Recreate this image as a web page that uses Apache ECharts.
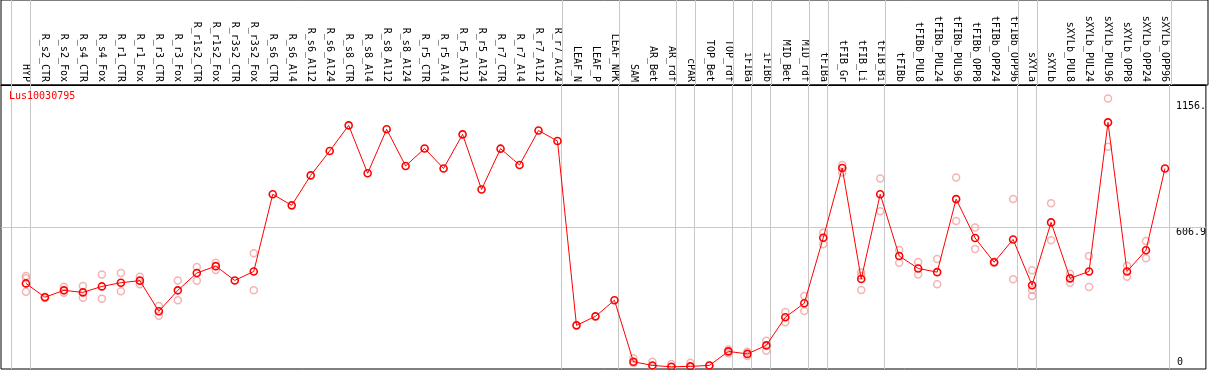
<!DOCTYPE html>
<html>
<head>
<meta charset="utf-8">
<script src="https://cdn.jsdelivr.net/npm/echarts@6/dist/echarts.min.js"></script>
<style>
  html, body { margin: 0; padding: 0; background: #fff; }
  #chart { width: 1209px; height: 370px; }
</style>
</head>
<body>
<div id="chart"></div>
<script>
// Echantillons (ordre de l'axe)
const samples = [
  'HYP', 'R_s2_CTR', 'R_s2_Fox', 'R_s4_CTR', 'R_s4_Fox', 'R_r1_CTR', 'R_r1_Fox',
  'R_r3_CTR', 'R_r3_Fox', 'R_r1s2_CTR', 'R_r1s2_Fox', 'R_r3s2_CTR', 'R_r3s2_Fox',
  'R_s6_CTR', 'R_s6_Al4', 'R_s6_Al12', 'R_s6_Al24', 'R_s8_CTR', 'R_s8_Al4', 'R_s8_Al12',
  'R_s8_Al24', 'R_r5_CTR', 'R_r5_Al4', 'R_r5_Al12', 'R_r5_Al24', 'R_r7_CTR', 'R_r7_Al4',
  'R_r7_Al12', 'R_r7_Al24', 'LEAF_N', 'LEAF_P', 'LEAF_NPK', 'SAM', 'AR_Bet', 'AR_rdf',
  'cPAR', 'TOP_Bet', 'TOP_rdf', 'iFIBa', 'iFIBb', 'MID_Bet', 'MID_rdf', 'tFIBa',
  'tFIB_Gr', 'tFIB_Li', 'tFIB_Bi', 'tFIBb', 'tFIBb_PUL8', 'tFIBb_PUL24', 'tFIBb_PUL96',
  'tFIBb_OPP8', 'tFIBb_OPP24', 'tFIBb_OPP96', 'sXYLa', 'sXYLb', 'sXYLb_PUL8',
  'sXYLb_PUL24', 'sXYLb_PUL96', 'sXYLb_OPP8', 'sXYLb_OPP24', 'sXYLb_OPP96'
];

// Moyennes
const means = [
  365, 305, 335, 326, 352, 368, 377, 244, 335, 410, 440, 378, 417,
  752, 704, 834, 940, 1051, 843, 1034, 875, 951, 864, 1012, 773, 950, 879, 1029, 983,
  183, 222, 292, 25, 9, 3, 5, 9, 70, 59, 96, 218, 279, 563,
  866, 384, 752, 484, 430, 414, 731, 562, 457, 556, 357, 630, 387,
  417, 1064, 417, 509, 864
];

// Replicats
const replicates = [
  [397, 387, 329], [307, 302], [351, 325], [354, 303], [404, 299], [410, 331], [394, 361],
  [267, 225], [378, 292], [436, 377], [455, 423], [], [496, 335],
  [], [], [], [], [], [], [], [], [], [], [], [], [], [], [], [],
  [], [], [], [40, 20], [25, 5], [15, 2], [21, 2], [9], [78, 62], [68, 50], [116, 73],
  [241, 196], [310, 245], [585, 535],
  [879, 846], [412, 398, 336], [821, 678], [510, 455], [458, 404], [471, 361], [825, 636],
  [608, 514], [459, 455], [731, 383], [422, 336, 310], [713, 552], [407, 368],
  [484, 349], [1168, 958], [442, 394], [549, 474], []
];

// Derniers echantillons de chaque groupe (-1 = bord gauche)
const groupEnds = [-1, 0, 28, 31, 34, 35, 37, 38, 39, 41, 42, 45, 52, 53, 60];

// Graduations de droite
const yTicks = [0, 606.9, 1156.3];
const yTickLabels = ['0', '606.9', '1156.'];

const font = 'DejaVu Sans Mono';
const xMin = -1.3146;
const xMax = 62.156;
const yMin = -6.51;
const yMax = 1226.4;

const meanData = means.map((v, i) => [i, v]);
const repData = [];
replicates.forEach((list, i) => list.forEach(v => repData.push([i, v])));

const vLines = groupEnds.map(i => ({ xAxis: i + 0.2 }));
const gridLineStyle = { color: '#c8c8c8', type: 'solid', width: 1 };

const dom = document.getElementById('chart');
const myChart = echarts.init(dom, null, { renderer: 'canvas' });

function rightLabels(values, vAlign, margin) {
  return {
    type: 'value',
    gridIndex: 1,
    position: 'right',
    min: yMin,
    max: yMax,
    axisLine: { show: false },
    axisTick: { show: false },
    splitLine: { show: false },
    axisLabel: {
      inside: true,
      customValues: values,
      formatter: v => yTickLabels[yTicks.indexOf(v)],
      align: 'left',
      verticalAlign: vAlign,
      margin: margin,
      color: '#000',
      fontFamily: font,
      fontSize: 10
    }
  };
}

myChart.setOption({
  animation: false,
  backgroundColor: '#fff',
  title: {
    text: 'Lus10030795',
    left: 9,
    top: 91,
    padding: 0,
    textStyle: { color: '#ff0000', fontFamily: font, fontSize: 10, fontWeight: 'normal' }
  },
  grid: [
    // en-tete (noms des echantillons)
    { left: 1, right: 1, top: 0, height: 85, show: true, borderColor: '#000', borderWidth: 1 },
    // zone du graphique
    { left: 1, right: 1, top: 85, bottom: 1, show: true, borderColor: '#000', borderWidth: 1 }
  ],
  xAxis: [
    {
      type: 'value', gridIndex: 0, min: xMin, max: xMax,
      show: false
    },
    {
      type: 'value', gridIndex: 1, position: 'top', min: xMin, max: xMax,
      axisLine: { show: true, onZero: false, lineStyle: { color: '#000', width: 1 } },
      axisTick: { show: false },
      splitLine: { show: false },
      axisLabel: {
        customValues: samples.map((s, i) => i),
        formatter: v => samples[v],
        rotate: 90,
        margin: 3,
        color: '#000',
        fontFamily: font,
        fontSize: 10
      }
    }
  ],
  yAxis: [
    { type: 'value', gridIndex: 0, min: 0, max: 1, show: false },
    rightLabels(yTicks.slice(1), 'top', 30),
    rightLabels(yTicks.slice(0, 1), 'bottom', 29)
  ],
  series: [
    {
      name: 'separateurs',
      type: 'line',
      xAxisIndex: 0,
      yAxisIndex: 0,
      data: [],
      silent: true,
      markLine: {
        silent: true,
        symbol: 'none',
        label: { show: false },
        lineStyle: gridLineStyle,
        data: vLines
      }
    },
    {
      name: 'replicats',
      type: 'scatter',
      xAxisIndex: 1,
      yAxisIndex: 1,
      data: repData,
      symbol: 'circle',
      symbolSize: 7,
      itemStyle: { color: 'rgba(0,0,0,0)', borderColor: '#f2a0a0', borderWidth: 1.5 },
      z: 2,
      silent: true
    },
    {
      name: 'moyenne',
      type: 'line',
      xAxisIndex: 1,
      yAxisIndex: 1,
      data: meanData,
      symbol: 'circle',
      symbolSize: 7,
      showAllSymbol: true,
      lineStyle: { color: '#ff0000', width: 1 },
      itemStyle: { color: 'rgba(0,0,0,0)', borderColor: '#ff0000', borderWidth: 1.6 },
      z: 3,
      silent: true,
      markLine: {
        silent: true,
        symbol: 'none',
        label: { show: false },
        lineStyle: gridLineStyle,
        z: 1,
        data: vLines.concat([{ yAxis: yTicks[1] }])
      }
    }
  ]
});

window.addEventListener('resize', function () {
  myChart.resize();
});
</script>
</body>
</html>
